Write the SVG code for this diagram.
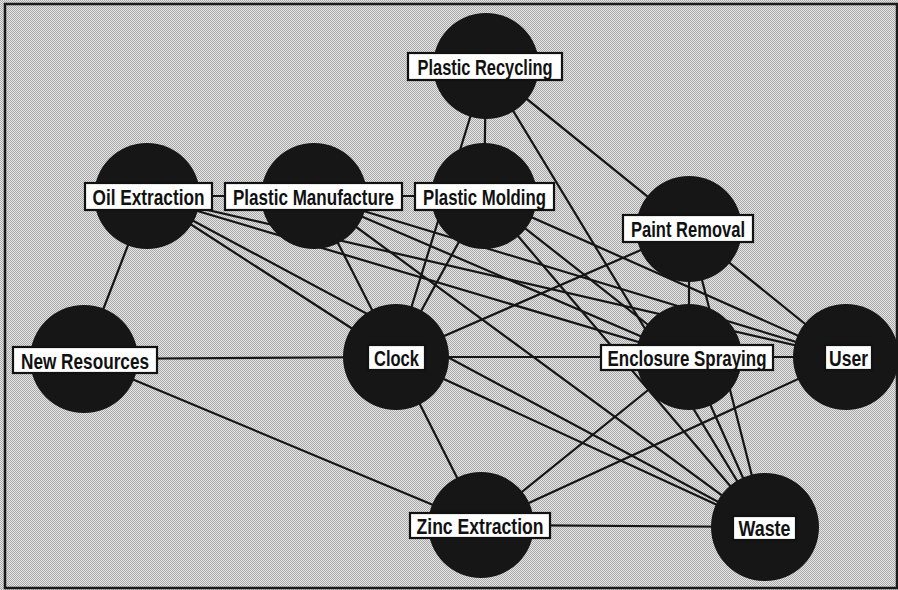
<svg xmlns="http://www.w3.org/2000/svg" width="898" height="590" viewBox="0 0 898 590">
<style>
.bg{fill:url(#dither)}
.frame{fill:none;stroke:#1a1a1a;stroke-width:2.5}
.edge{stroke:#151515;stroke-width:2.2;fill:none}
.node circle{fill:#161616}
.node rect{fill:#ffffff;stroke:#111111;stroke-width:2.2}
.node text{font-family:"Liberation Sans",Arial,sans-serif;font-weight:bold;font-size:16.5px;fill:#111111;text-anchor:middle}
</style>
<defs>
<pattern id="dither" width="2" height="2" patternUnits="userSpaceOnUse">
<rect width="2" height="2" fill="#e6e6e6"/>
<rect width="1" height="1" fill="#a8a8a8"/>
<rect x="1" y="1" width="1" height="1" fill="#a8a8a8"/>
</pattern>
</defs>
<rect class="bg" x="0" y="0" width="898" height="590"/>
<rect class="frame" x="5" y="4" width="892" height="584"/>
<g id="connectors">
<line class="edge" x1="486" y1="66" x2="484" y2="196"/>
<line class="edge" x1="486" y1="66" x2="396" y2="357"/>
<line class="edge" x1="486" y1="66" x2="765" y2="527"/>
<line class="edge" x1="486" y1="66" x2="846" y2="357"/>
<line class="edge" x1="147" y1="196" x2="84" y2="359"/>
<line class="edge" x1="147" y1="196" x2="314" y2="196"/>
<line class="edge" x1="314" y1="196" x2="484" y2="196"/>
<line class="edge" x1="147" y1="196" x2="396" y2="357"/>
<line class="edge" x1="147" y1="196" x2="765" y2="527"/>
<line class="edge" x1="147" y1="196" x2="689" y2="357"/>
<line class="edge" x1="147" y1="196" x2="846" y2="357"/>
<line class="edge" x1="314" y1="196" x2="396" y2="357"/>
<line class="edge" x1="314" y1="196" x2="765" y2="527"/>
<line class="edge" x1="314" y1="196" x2="689" y2="357"/>
<line class="edge" x1="314" y1="196" x2="846" y2="357"/>
<line class="edge" x1="484" y1="196" x2="396" y2="357"/>
<line class="edge" x1="484" y1="196" x2="765" y2="527"/>
<line class="edge" x1="484" y1="196" x2="689" y2="357"/>
<line class="edge" x1="484" y1="196" x2="846" y2="357"/>
<line class="edge" x1="84" y1="359" x2="396" y2="357"/>
<line class="edge" x1="84" y1="359" x2="481" y2="525"/>
<line class="edge" x1="396" y1="357" x2="689" y2="357"/>
<line class="edge" x1="689" y1="357" x2="846" y2="357"/>
<line class="edge" x1="396" y1="357" x2="481" y2="525"/>
<line class="edge" x1="396" y1="357" x2="765" y2="527"/>
<line class="edge" x1="396" y1="357" x2="689" y2="229"/>
<line class="edge" x1="689" y1="229" x2="689" y2="357"/>
<line class="edge" x1="689" y1="229" x2="765" y2="527"/>
<line class="edge" x1="689" y1="357" x2="765" y2="527"/>
<line class="edge" x1="689" y1="357" x2="481" y2="525"/>
<line class="edge" x1="846" y1="357" x2="481" y2="525"/>
<line class="edge" x1="481" y1="525" x2="765" y2="527"/>
</g>
<g id="plastic-recycling" class="node">
<circle cx="486" cy="66" r="53"/>
<rect x="408" y="53" width="154" height="27"/>
<text transform="translate(485,74.5) scale(1,1.39)" textLength="135" lengthAdjust="spacingAndGlyphs">Plastic Recycling</text>
</g>
<g id="oil-extraction" class="node">
<circle cx="147" cy="196" r="53"/>
<rect x="85" y="183" width="127" height="27"/>
<text transform="translate(148.5,204.5) scale(1,1.39)" textLength="112" lengthAdjust="spacingAndGlyphs">Oil Extraction</text>
</g>
<g id="plastic-manufacture" class="node">
<circle cx="314" cy="196" r="53"/>
<rect x="225" y="183" width="177" height="27"/>
<text transform="translate(313.5,204.5) scale(1,1.39)" textLength="161" lengthAdjust="spacingAndGlyphs">Plastic Manufacture</text>
</g>
<g id="plastic-molding" class="node">
<circle cx="484" cy="196" r="53"/>
<rect x="415" y="183" width="139" height="27"/>
<text transform="translate(484.5,204.5) scale(1,1.39)" textLength="123" lengthAdjust="spacingAndGlyphs">Plastic Molding</text>
</g>
<g id="paint-removal" class="node">
<circle cx="689" cy="229" r="53"/>
<rect x="623" y="215" width="130" height="27"/>
<text transform="translate(688,237) scale(1,1.39)" textLength="114" lengthAdjust="spacingAndGlyphs">Paint Removal</text>
</g>
<g id="new-resources" class="node">
<circle cx="84" cy="359" r="54"/>
<rect x="13" y="347" width="144" height="26"/>
<text transform="translate(85,368.5) scale(1,1.39)" textLength="128" lengthAdjust="spacingAndGlyphs">New Resources</text>
</g>
<g id="clock" class="node">
<circle cx="396" cy="357" r="53"/>
<rect x="368" y="345" width="57" height="25"/>
<text transform="translate(396.5,365.5) scale(1,1.39)" textLength="45" lengthAdjust="spacingAndGlyphs">Clock</text>
</g>
<g id="enclosure-spraying" class="node">
<circle cx="689" cy="357" r="53"/>
<rect x="601" y="345" width="172" height="25"/>
<text transform="translate(687,365.5) scale(1,1.39)" textLength="159" lengthAdjust="spacingAndGlyphs">Enclosure Spraying</text>
</g>
<g id="user" class="node">
<circle cx="846" cy="357" r="53"/>
<rect x="825" y="345" width="47" height="25"/>
<text transform="translate(848.5,365.5) scale(1,1.39)" textLength="39" lengthAdjust="spacingAndGlyphs">User</text>
</g>
<g id="zinc-extraction" class="node">
<circle cx="481" cy="525" r="53"/>
<rect x="410" y="513" width="140" height="25"/>
<text transform="translate(480,533.5) scale(1,1.39)" textLength="127" lengthAdjust="spacingAndGlyphs">Zinc Extraction</text>
</g>
<g id="waste" class="node">
<circle cx="765" cy="527" r="54"/>
<rect x="733" y="516" width="63" height="24"/>
<text transform="translate(764.5,536) scale(1,1.39)" textLength="52" lengthAdjust="spacingAndGlyphs">Waste</text>
</g>
</svg>
